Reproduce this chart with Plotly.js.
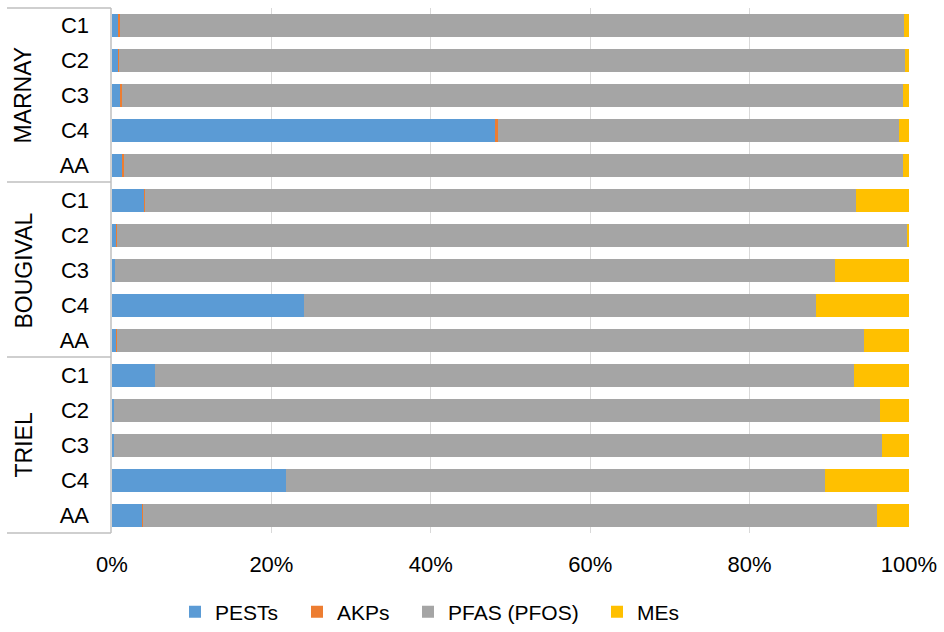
<!DOCTYPE html>
<html>
<head>
<meta charset="utf-8">
<script src="https://cdn.plot.ly/plotly-3.0.1.min.js"></script>
<style>body{margin:0;background:#fff}#chart{width:944px;height:632px}</style>
</head>
<body>
<div id="chart"></div>
<script>
const sites = ["MARNAY","BOUGIVAL","TRIEL"];
const samples = ["C1","C2","C3","C4","AA"];
const PESTs = [0.75,0.7,1.0,48.1,1.25, 4.0,0.5,0.35,24.1,0.5, 5.4,0.25,0.2,21.8,3.8];
const AKPs  = [0.2,0.15,0.3,0.3,0.3, 0.1,0.1,0.05,0.05,0.15, 0.05,0.05,0.05,0.05,0.05];
const MEs   = [0.6,0.55,0.75,1.2,0.8, 6.6,0.3,9.3,11.7,5.7, 6.9,3.7,3.4,10.5,4.0];
const PFAS  = PESTs.map((p,i)=>100-p-AKPs[i]-MEs[i]);

const keys = [], labels = [];
sites.forEach(s=>samples.forEach(c=>{keys.push(s+" "+c); labels.push(c);}));

const FF = "Liberation Sans, Arial, sans-serif";
const axFont = {family:FF, size:22, color:"#000"};
const legFont = {family:FF, size:21, color:"#000"};
const grpFont = {family:FF, size:23, color:"#000"};
const legNames = ["legend","legend2","legend3","legend4"];
function tr(name, vals, color, i){
  return {type:"bar", orientation:"h", name:name, y:keys, x:vals, legend:legNames[i],
    marker:{color:color, line:{width:0}}, hoverinfo:"x+name"};
}
const data = [
  tr("PESTs", PESTs, "#5B9BD5", 0),
  tr("AKPs", AKPs, "#ED7D31", 1),
  tr("PFAS (PFOS)", PFAS, "#A5A5A5", 2),
  tr("MEs", MEs, "#FFC000", 3)
];

const WW=944, HH=632;
const L=112, R=909, T=8, B=533;
const W=R-L, H=B-T;
const px = x => (x-L)/W;
const py = y => 1-(y-T)/H;

const shapes = [];
[8,182,357,533].forEach(y=>{
  shapes.push({type:"line", xref:"paper", yref:"paper", x0:px(7), x1:px(111), y0:py(y), y1:py(y),
    line:{color:"#BFBFBF", width:1.5}});
});
shapes.push({type:"line", xref:"paper", yref:"paper", x0:px(111), x1:px(111), y0:py(8), y1:py(533),
  line:{color:"#BFBFBF", width:1.5}});

const annotations = sites.map((s,i)=>({
  text:s, xref:"paper", yref:"paper", x:px(23), y:py(8+H/3*(i+0.5)),
  showarrow:false, textangle:-90, font:grpFont, xanchor:"center", yanchor:"middle"
}));

const textStarts = [215, 337, 448, 637];
function leg(i){
  return {orientation:"h", xref:"container", yref:"container",
    x:(textStarts[i]-40)/WW, xanchor:"left", y:1-612/HH, yanchor:"middle",
    font:legFont, itemwidth:30, bgcolor:"rgba(0,0,0,0)"};
}

const layout = {
  width:WW, height:HH,
  margin:{l:L, r:WW-R, t:T, b:HH-B, autoexpand:false},
  barmode:"stack", bargap:0.33,
  paper_bgcolor:"#fff", plot_bgcolor:"#fff",
  font:axFont,
  xaxis:{range:[0,100], tickvals:[0,20,40,60,80,100], ticktext:["0%","20%","40%","60%","80%","100%"],
    showgrid:true, gridcolor:"#D9D9D9", gridwidth:1, zeroline:false, showline:false,
    ticks:"", ticklabelstandoff:16, tickfont:axFont, fixedrange:true},
  yaxis:{type:"category", categoryorder:"array", categoryarray:keys, autorange:"reversed",
    tickvals:keys, ticktext:labels, ticks:"", showgrid:false, zeroline:false, showline:false,
    ticklabelstandoff:22, tickfont:axFont, fixedrange:true},
  legend:leg(0), legend2:leg(1), legend3:leg(2), legend4:leg(3),
  shapes:shapes, annotations:annotations, showlegend:true
};
Plotly.newPlot("chart", data, layout, {displayModeBar:false, staticPlot:true});
</script>
</body>
</html>
